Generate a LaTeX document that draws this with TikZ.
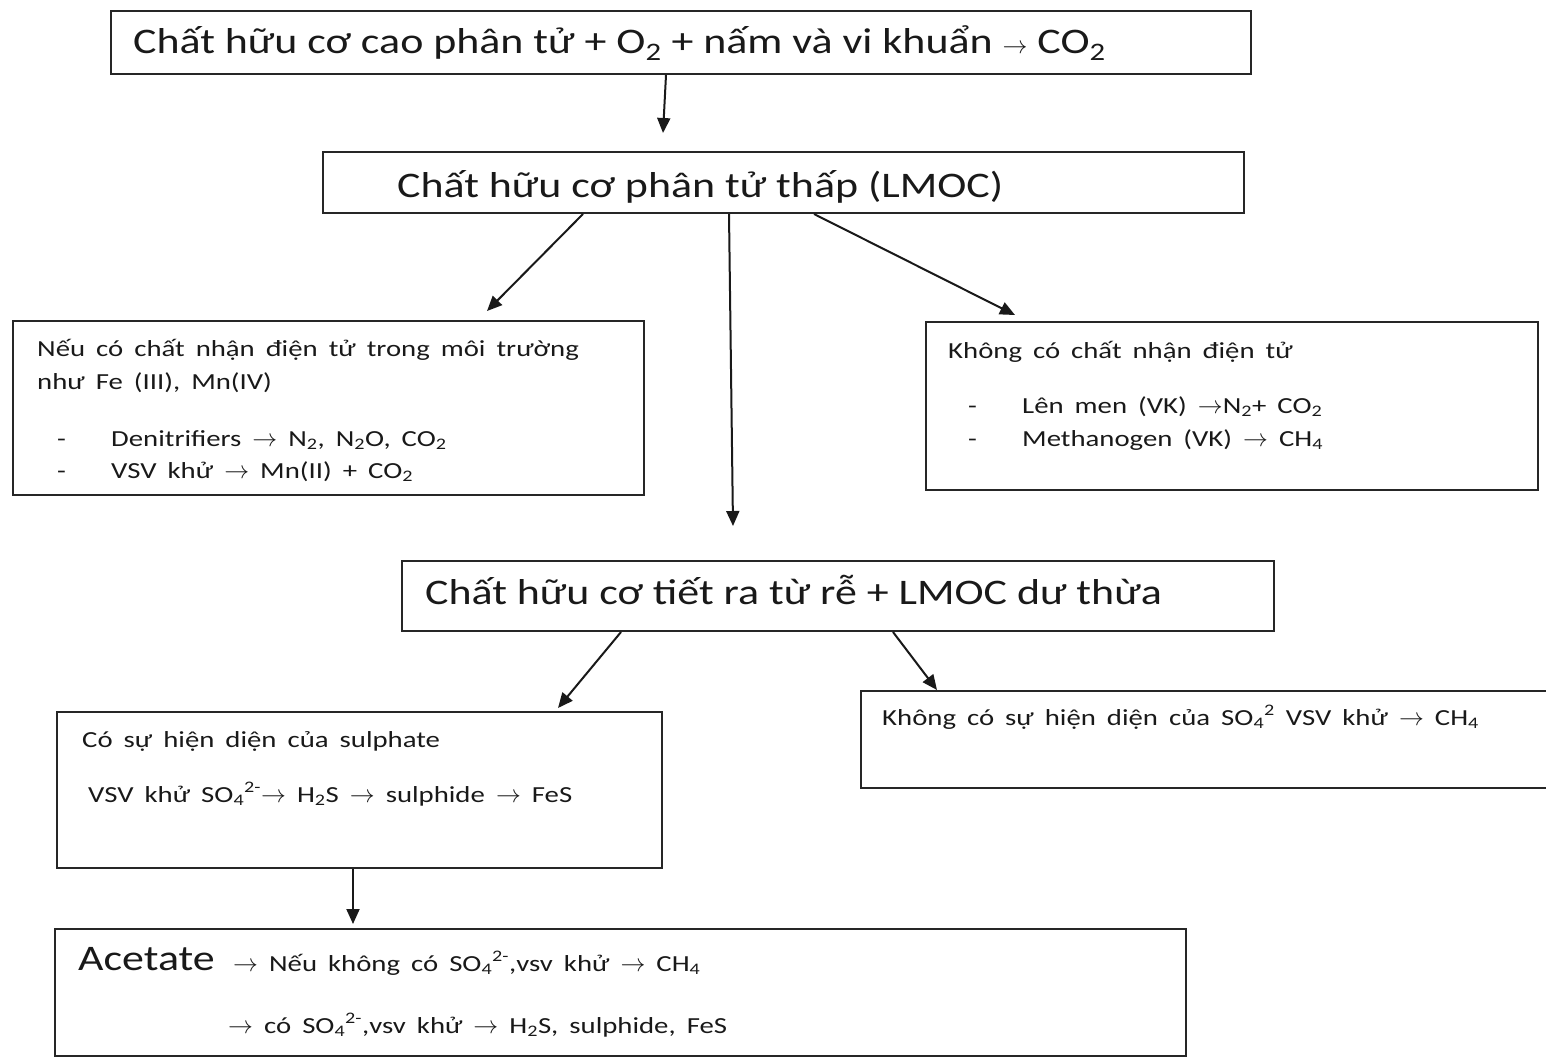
\documentclass[tikz,border=0pt]{standalone}
\usepackage{fontspec}
\setmainfont{Carlito}
\newfontfamily\bigf[FakeStretch=1.22]{Carlito}
\newfontfamily\smallf[FakeStretch=1.25,WordSpace=1.7]{Carlito}
\usetikzlibrary{arrows.meta,calc}
\newcommand\ra{\ensuremath{\rightarrow}}
\newcommand\sub[1]{\textsubscript{#1}}
\newcommand\sups[1]{\textsuperscript{#1}}
\tikzset{
  box/.style={draw=black!85, line width=2pt, anchor=north west, inner sep=0pt},
  conn/.style={-{Triangle[length=15pt,width=13pt]}, line width=2pt, draw=black!90},
  txt/.style={anchor=base west, inner sep=0pt, text=black!90},
  big/.style={txt, font=\bigf\fontsize{36}{40}\selectfont},
  small/.style={txt, font=\smallf\fontsize{23}{26}\selectfont},
}
\begin{document}
\begin{tikzpicture}[x=1pt,y=-1pt]
\useasboundingbox (0,0) rectangle (1546,1058);
% boxes
\node[box, minimum width=1140pt, minimum height=63pt] (b1) at (110,10) {};
\node[box, minimum width=921pt, minimum height=61pt] (b2) at (322,151) {};
\node[box, minimum width=631pt, minimum height=174pt] (b3) at (12,320) {};
\node[box, minimum width=612pt, minimum height=168pt] (b4) at (925,321) {};
\node[box, minimum width=872pt, minimum height=70pt] (b5) at (401,560) {};
\node[box, minimum width=605pt, minimum height=156pt] (b6) at (56,711) {};
\node[box, minimum width=686pt, minimum height=97pt] (b7) at (860,690) {};
\node[box, minimum width=1131pt, minimum height=127pt] (b8) at (54,928) {};
% texts
\node[big] (t1) at (133,53) {Chất hữu cơ cao phân tử + O\sub{2} + nấm và vi khuẩn \ra{} CO\sub{2}};
\node[big] (t2) at (397,197) {Chất hữu cơ phân tử thấp (LMOC)};
\node[small] (t3a) at (37,356) {Nếu có chất nhận điện tử trong môi trường};
\node[small] (t3b) at (37,389) {như Fe (III), Mn(IV)};
\node[small] (t3c) at (57,446) {-};
\node[small] (t3d) at (111,446) {Denitrifiers \ra{} N\sub{2}, N\sub{2}O, CO\sub{2}};
\node[small] (t3e) at (57,478) {-};
\node[small] (t3f) at (111,478) {VSV khử \ra{} Mn(II) + CO\sub{2}};
\node[small] (t4a) at (948,358) {Không có chất nhận điện tử};
\node[small] (t4b) at (968,413) {-};
\node[small] (t4c) at (1022,413) {Lên men (VK) \ra{}N\sub{2}+ CO\sub{2}};
\node[small] (t4d) at (968,446) {-};
\node[small] (t4e) at (1022,446) {Methanogen (VK) \ra{} CH\sub{4}};
\node[big] (t5) at (425,604) {Chất hữu cơ tiết ra từ rễ + LMOC dư thừa};
\node[small] (t6a) at (82,747) {Có sự hiện diện của sulphate};
\node[small] (t6b) at (88,802) {VSV khử SO\sub{4}\sups{2-}\ra{} H\sub{2}S \ra{} sulphide \ra{} FeS};
\node[small] (t7) at (882,725) {Không có sự hiện diện của SO\sub{4}\sups{2} VSV khử \ra{} CH\sub{4}};
\node[txt, font=\bigf\fontsize{36}{40}\selectfont] (t8a) at (78,970) {Acetate};
\node[small] (t8b) at (233,971) {\ra{} Nếu không có SO\sub{4}\sups{2-},vsv khử \ra{} CH\sub{4}};
\node[small] (t8c) at (228,1033) {\ra{} có SO\sub{4}\sups{2-},vsv khử \ra{} H\sub{2}S, sulphide, FeS};
% arrow tips
\coordinate (p1) at (663,133);
\coordinate (p2) at (487,311);
\coordinate (p3) at (733,526);
\coordinate (p4) at (1015,315);
\coordinate (p5) at (558,708);
\coordinate (p6) at (937,690);
\coordinate (p7) at (353,924);
% connectors
\draw[conn] ($(b1.south west)+(556,0)$) -- (p1);
\draw[conn] ($(b2.south west)+(261,0)$) -- (p2);
\draw[conn] ($(b2.south west)+(407,0)$) -- (p3);
\draw[conn] ($(b2.south west)+(492,0)$) -- (p4);
\draw[conn] ($(b5.south west)+(220,0)$) -- (p5);
\draw[conn] ($(b5.south west)+(492,0)$) -- (p6);
\draw[conn] ($(b6.south west)+(297,0)$) -- (p7);
\end{tikzpicture}
\end{document}
